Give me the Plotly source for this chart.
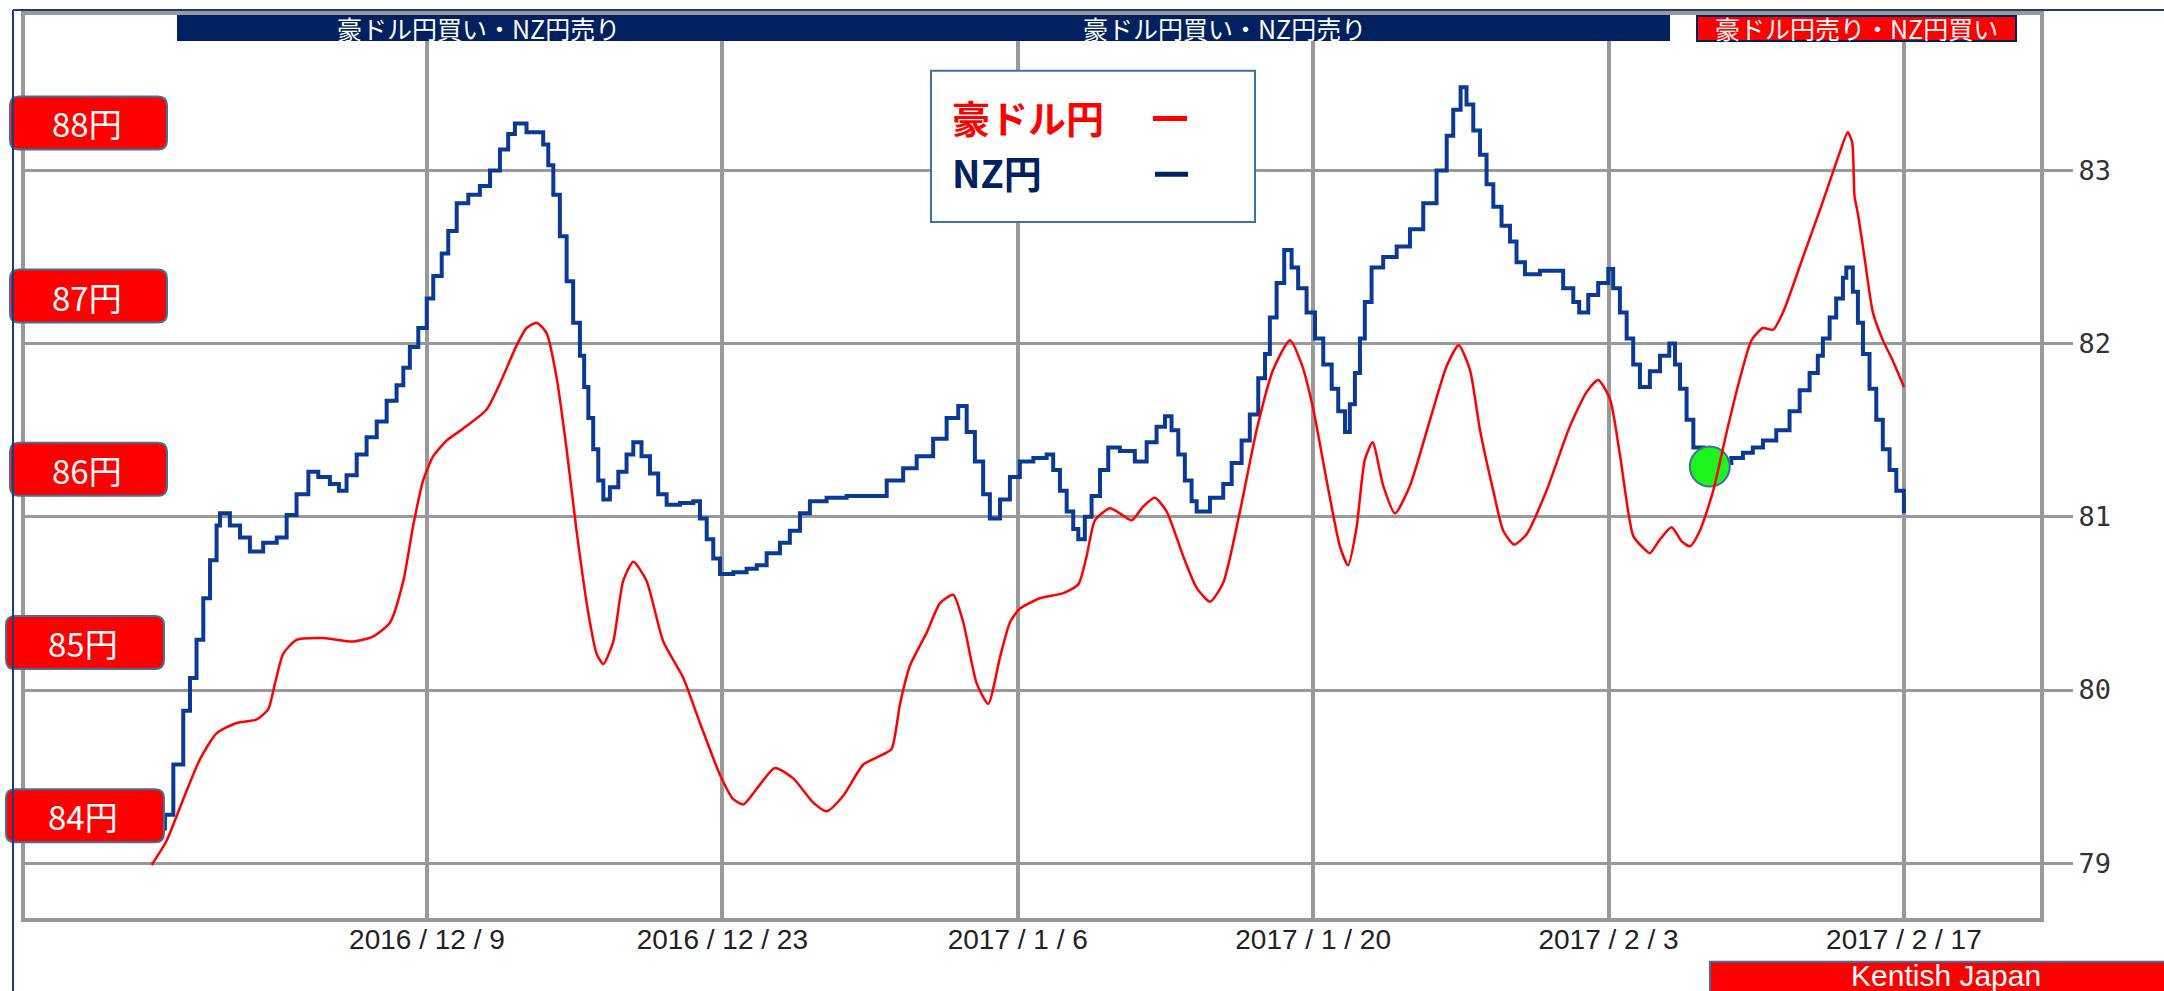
import pandas as pd
import plotly.graph_objects as go

# ---------------- data ----------------
base_date = "2016-12-09"

# NZD/JPY (right axis), x = days after 2016-12-09
nz_days = [-12.6, -12.42, -12.02, -11.55, -11.23, -10.92, -10.6, -10.28, -9.97, -9.81,
           -9.34, -8.86, -8.39, -7.76, -7.12, -6.65, -6.18, -5.62, -5.15, -4.6,
           -4.17, -3.81, -3.33, -2.86, -2.38, -1.91, -1.44, -1.12, -0.81, -0.41,
           -0.01, 0.3, 0.7, 1.01, 1.41, 1.96, 2.51, 2.99, 3.46, 3.85,
           4.17, 4.72, 5.51, 5.75, 5.99, 6.3, 6.62, 6.93, 7.25, 7.45,
           7.65, 7.88, 8.12, 8.36, 8.67, 9.07, 9.46, 9.78, 10.17, 10.57,
           10.96, 11.36, 11.99, 12.62, 12.94, 13.26, 13.57, 13.89, 14.52, 15.15,
           15.63, 16.1, 16.73, 17.2, 17.68, 18.15, 18.94, 19.89, 20.99, 21.79,
           22.57, 23.21, 23.99, 24.63, 25.18, 25.58, 25.97, 26.36, 26.68, 27.16,
           27.63, 28.1, 28.74, 29.37, 29.68, 30.0, 30.32, 30.63, 30.87, 31.18,
           31.5, 31.9, 32.29, 32.84, 33.55, 34.11, 34.58, 34.98, 35.29, 35.61,
           35.92, 36.24, 36.48, 37.11, 37.74, 38.14, 38.61, 39.0, 39.4, 39.72,
           39.95, 40.27, 40.63, 40.98, 41.29, 41.69, 42.09, 42.48, 42.88, 43.19,
           43.51, 43.74, 43.98, 44.22, 44.45, 44.77, 45.32, 45.96, 46.59, 47.22,
           47.85, 48.33, 48.64, 48.99, 49.27, 49.59, 49.91, 50.22, 50.54, 50.93,
           51.33, 51.64, 52.04, 52.75, 53.38, 53.85, 54.33, 54.61, 55.04, 55.51,
           55.99, 56.22, 56.54, 56.86, 57.17, 57.49, 57.96, 58.44, 58.88, 59.15,
           59.39, 59.7, 60.02, 60.5, 61.2, 61.82, 62.37, 62.84, 63.32, 63.95,
           64.58, 65.06, 65.53, 65.92, 66.16, 66.48, 66.79, 67.11, 67.27, 67.58,
           67.82, 68.06, 68.37, 68.69, 69.0, 69.32, 69.64, 70.0]
nz_values = [79.2, 79.28, 79.57, 79.88, 80.07, 80.29, 80.53, 80.75, 80.95, 81.02,
             80.95, 80.88, 80.80, 80.85, 80.88, 81.01, 81.13, 81.26, 81.23, 81.19,
             81.15, 81.24, 81.36, 81.46, 81.55, 81.67, 81.76, 81.86, 81.98, 82.09,
             82.26, 82.39, 82.52, 82.65, 82.81, 82.86, 82.91, 83.0, 83.12, 83.21,
             83.27, 83.22, 83.15, 83.03, 82.86, 82.62, 82.36, 82.12, 81.93, 81.75,
             81.57, 81.39, 81.21, 81.10, 81.17, 81.26, 81.36, 81.43, 81.35, 81.25,
             81.13, 81.07, 81.08, 81.09, 80.99, 80.87, 80.76, 80.67, 80.68, 80.70,
             80.72, 80.79, 80.85, 80.92, 81.02, 81.09, 81.11, 81.12, 81.12, 81.21,
             81.28, 81.35, 81.45, 81.57, 81.64, 81.49, 81.32, 81.13, 80.99, 81.10,
             81.23, 81.32, 81.34, 81.36, 81.27, 81.15, 81.03, 80.93, 80.87, 81.0,
             81.12, 81.27, 81.40, 81.38, 81.32, 81.43, 81.52, 81.58, 81.50, 81.36,
             81.21, 81.09, 81.03, 81.11, 81.19, 81.31, 81.44, 81.59, 81.80, 81.94,
             82.15, 82.35, 82.54, 82.44, 82.32, 82.18, 82.03, 81.88, 81.74, 81.61,
             81.49, 81.65, 81.83, 82.03, 82.24, 82.44, 82.50, 82.56, 82.66, 82.81,
             83.0, 83.20, 83.35, 83.48, 83.38, 83.23, 83.09, 82.92, 82.79, 82.68,
             82.59, 82.47, 82.40, 82.42, 82.42, 82.32, 82.24, 82.18, 82.28, 82.35,
             82.43, 82.32, 82.18, 82.03, 81.88, 81.75, 81.84, 81.93, 82.0, 81.88,
             81.74, 81.56, 81.40, 81.30, 81.31, 81.34, 81.37, 81.40, 81.44, 81.50,
             81.61, 81.73, 81.83, 81.93, 82.03, 82.15, 82.26, 82.38, 82.44, 82.30,
             82.12, 81.94, 81.74, 81.56, 81.39, 81.27, 81.15, 81.02]

# AUD/JPY (left scale, yen), x = days after 2016-12-09
aud_days = [-13.05, -12.34, -11.55, -10.76, -9.97, -9.02, -8.07, -7.52, -7.2, -6.81,
            -6.18, -4.91, -3.49, -2.54, -1.75, -1.12, -0.65, -0.18, 0.3, 0.93,
            1.72, 2.83, 3.46, 4.25, 4.72, 5.2, 5.67, 6.15, 6.62, 7.09,
            7.64, 8.04, 8.36, 8.83, 9.3, 9.78, 10.41, 11.2, 12.15, 12.94,
            13.89, 14.52, 15.0, 15.63, 16.49, 17.36, 18.31, 18.94, 19.73, 20.68,
            21.47, 22.02, 22.42, 22.89, 23.68, 24.31, 24.94, 25.42, 26.05, 26.6,
            27.16, 27.63, 28.1, 29.05, 30.16, 30.87, 31.26, 31.66, 32.37, 32.84,
            33.4, 33.95, 34.5, 35.06, 35.85, 36.48, 37.11, 37.74, 38.53, 39.32,
            40.11, 40.9, 41.46, 42.01, 42.64, 43.27, 43.66, 44.06, 44.45, 44.82,
            45.32, 45.88, 46.59, 47.54, 48.33, 48.9, 49.43, 49.91, 50.54, 51.01,
            51.53, 52.12, 53.06, 54.16, 54.96, 55.51, 56.07, 56.54, 57.17, 57.65,
            57.96, 58.44, 58.99, 59.46, 59.86, 60.33, 60.96, 61.6, 62.23, 62.78,
            63.32, 63.8, 64.27, 65.22, 66.16, 66.95, 67.34, 67.55, 67.66, 67.82,
            68.13, 68.53, 69.0, 69.48, 70.0]
aud_values = [83.99, 84.13, 84.37, 84.60, 84.75, 84.81, 84.83, 84.89, 85.04, 85.21,
              85.29, 85.30, 85.28, 85.31, 85.39, 85.63, 85.95, 86.21, 86.35, 86.44,
              86.51, 86.62, 86.77, 86.99, 87.09, 87.12, 87.06, 86.80, 86.39, 85.92,
              85.45, 85.21, 85.15, 85.28, 85.63, 85.74, 85.63, 85.28, 85.07, 84.81,
              84.51, 84.37, 84.34, 84.43, 84.55, 84.49, 84.35, 84.30, 84.39, 84.57,
              84.62, 84.66, 84.92, 85.14, 85.33, 85.50, 85.55, 85.39, 85.04, 84.92,
              85.19, 85.39, 85.47, 85.53, 85.56, 85.61, 85.77, 85.98, 86.05, 86.02,
              85.98, 86.06, 86.11, 86.03, 85.77, 85.59, 85.51, 85.62, 86.03, 86.50,
              86.85, 87.02, 86.88, 86.62, 86.21, 85.83, 85.72, 85.94, 86.33, 86.43,
              86.18, 86.02, 86.18, 86.56, 86.87, 86.99, 86.85, 86.50, 86.15, 85.92,
              85.84, 85.90, 86.15, 86.52, 86.72, 86.79, 86.68, 86.36, 85.89, 85.82,
              85.79, 85.87, 85.94, 85.86, 85.83, 85.92, 86.15, 86.49, 86.80, 87.02,
              87.09, 87.08, 87.18, 87.50, 87.82, 88.10, 88.22, 88.16, 87.85, 87.75,
              87.50, 87.18, 87.02, 86.90, 86.75]

# entry signal (green dot)
signal_days = [60.8]
signal_values = [81.29]

tick_dates = ["2016-12-09", "2016-12-23", "2017-01-06", "2017-01-20", "2017-02-03", "2017-02-17"]
tick_labels = ["2016 / 12 / 9", "2016 / 12 / 23", "2017 / 1 / 6", "2017 / 1 / 20", "2017 / 2 / 3", "2017 / 2 / 17"]
right_ticks = [79, 80, 81, 82, 83]
left_levels = [88, 87, 86, 85, 84]
left_texts = ["88円", "87円", "86円", "85円", "84円"]
banner_buy = "豪ドル円買い・NZ円売り"
banner_sell = "豪ドル円売り・NZ円買い"
legend_names = ["豪ドル円", "NZ円"]
watermark = "Kentish Japan"

# ---------------- styling / geometry ----------------
W, H = 2164, 991
L, R, T, B = 25, 2040, 11, 918
NAVY = "#002060"
LINE_NAVY = "#0a3a96"
GRID = "#999999"
BORDER_BLUE = "#41719c"
CJK = "Noto Sans CJK JP"

base = pd.Timestamp(base_date)


def to_dates(days):
    return [base + pd.Timedelta(days=d) for d in days]


def px(x):
    return (x - L) / (R - L)


def py(y):
    return (B - y) / (B - T)


fig = go.Figure()
fig.add_trace(go.Scatter(x=to_dates(aud_days), y=aud_values, yaxis="y2", mode="lines",
                         line=dict(color="#ff0000", width=2.5, shape="spline", smoothing=0.6),
                         name=legend_names[0]))
fig.add_trace(go.Scatter(x=to_dates(nz_days), y=nz_values, yaxis="y", mode="lines",
                         line=dict(color=LINE_NAVY, width=4, shape="hv"),
                         name=legend_names[1]))
fig.add_trace(go.Scatter(x=to_dates(signal_days), y=signal_values, yaxis="y", mode="markers",
                         marker=dict(size=40, color="#1cf51c", line=dict(color=BORDER_BLUE, width=2)),
                         name="signal"))

x0 = base - pd.Timedelta(days=19.05)
x1 = base + pd.Timedelta(days=76.45)

shapes = []
annotations = []


def rrect(a, b, c, d, r):
    return (f"M {a+r},{c} L {b-r},{c} Q {b},{c} {b},{c+r} L {b},{d-r} Q {b},{d} {b-r},{d} "
            f"L {a+r},{d} Q {a},{d} {a},{d-r} L {a},{c+r} Q {a},{c} {a+r},{c} Z")


# left red yen labels
for v, t in zip(left_levels, left_texts):
    if v >= 86:
        xa, xb, xs = -15, 142, 64
    else:
        xa, xb, xs = -19, 139, 60
    shapes.append(dict(type="path", xref="paper", yref="y2", xsizemode="pixel", ysizemode="pixel",
                       xanchor=0, yanchor=v, path=rrect(xa, xb, 21, 74, 9),
                       fillcolor="#ff0000", line=dict(color=BORDER_BLUE, width=2), layer="above"))
    annotations.append(dict(xref="paper", x=0, xshift=xs - 2, yref="y2", y=v, yshift=47,
                            text=t, showarrow=False, xanchor="center", yanchor="middle",
                            font=dict(family=CJK, size=33, color="white")))

# top banners
shapes.append(dict(type="rect", xref="paper", yref="paper", x0=px(177), x1=px(778), y0=py(37), y1=py(11),
                   fillcolor=NAVY, line=dict(width=0), layer="above"))
shapes.append(dict(type="rect", xref="paper", yref="paper", x0=px(778), x1=px(1670), y0=py(37), y1=py(11),
                   fillcolor=NAVY, line=dict(width=0), layer="above"))
shapes.append(dict(type="rect", xref="paper", yref="paper", x0=px(1697), x1=px(2016), y0=py(37), y1=py(12),
                   fillcolor="#ff0000", line=dict(color=NAVY, width=2), layer="above"))
for cx, txt in [(478, banner_buy), (1224, banner_buy), (1856, banner_sell)]:
    annotations.append(dict(xref="paper", yref="paper", x=px(cx), y=py(24), text=txt, showarrow=False,
                            xanchor="center", yanchor="middle",
                            font=dict(family=CJK, size=25, color="white")))

# legend box
shapes.append(dict(type="rect", xref="paper", yref="paper", x0=px(931), x1=px(1255), y0=py(219), y1=py(67),
                   fillcolor="white", line=dict(color=BORDER_BLUE, width=2), layer="above"))
annotations.append(dict(xref="paper", yref="paper", x=px(950), y=py(113), text="<b>" + legend_names[0] + "</b>",
                        showarrow=False, xanchor="left", yanchor="middle",
                        font=dict(family=CJK, size=38, color="#ff0000")))
annotations.append(dict(xref="paper", yref="paper", x=px(950), y=py(168), text="<b>" + legend_names[1] + "</b>",
                        showarrow=False, xanchor="left", yanchor="middle",
                        font=dict(family=CJK, size=38, color=NAVY)))
shapes.append(dict(type="line", xref="paper", yref="paper", x0=px(1153), x1=px(1187), y0=py(115), y1=py(115),
                   line=dict(color="#ff0000", width=5), layer="above"))
shapes.append(dict(type="line", xref="paper", yref="paper", x0=px(1155), x1=px(1188), y0=py(171), y1=py(171),
                   line=dict(color=NAVY, width=5), layer="above"))

# outer navy frame lines
shapes.append(dict(type="line", xref="paper", yref="paper", x0=px(13), x1=px(13), y0=py(6), y1=py(995),
                   line=dict(color="#1f3c7a", width=2), layer="above"))
shapes.append(dict(type="line", xref="paper", yref="paper", x0=px(13), x1=px(2170), y0=py(6), y1=py(6),
                   line=dict(color="#1f3c7a", width=2), layer="above"))

# watermark box
shapes.append(dict(type="rect", xref="paper", yref="paper", x0=px(1710), x1=px(2175), y0=py(1000), y1=py(962),
                   fillcolor="#ff0000", line=dict(color=BORDER_BLUE, width=2), layer="above"))
annotations.append(dict(xref="paper", yref="paper", x=px(1946), y=py(993), text=watermark, showarrow=False,
                        xanchor="center", yanchor="bottom", borderpad=0,
                        font=dict(family="Liberation Sans, Arial, sans-serif", size=30, color="white")))

fig.update_layout(
    width=W, height=H,
    margin=dict(l=L, r=W - R, t=T, b=H - B, pad=0),
    paper_bgcolor="white", plot_bgcolor="white",
    showlegend=False, hovermode=False,
    shapes=shapes, annotations=annotations,
    xaxis=dict(type="date", range=[x0, x1], tickvals=to_dates([(pd.Timestamp(d) - base).days for d in tick_dates]),
               ticktext=tick_labels, showgrid=True, gridcolor=GRID, gridwidth=3.5, ticks="",
               ticklabelstandoff=-7,
               showline=True, mirror=True, linecolor=GRID, linewidth=4, zeroline=False,
               tickfont=dict(family="Liberation Sans, Arial, sans-serif", size=28, color="#222")),
    yaxis=dict(side="right", range=[78.684, 83.897], tickvals=right_ticks, showgrid=True,
               gridcolor=GRID, gridwidth=2.5, ticks="outside", ticklen=29, tickwidth=2.5, tickcolor=GRID,
               showline=True, mirror=True, linecolor=GRID, linewidth=4, zeroline=False,
               tickfont=dict(family="DejaVu Sans Mono", size=27, color="#333")),
    yaxis2=dict(overlaying="y", side="left", range=[83.684, 88.897], showgrid=False,
                showticklabels=False, ticks="", showline=False, zeroline=False),
)

fig.write_html("out.html", config={"displayModeBar": False},
               post_script="document.body.style.margin='0';document.body.style.overflow='hidden';")
